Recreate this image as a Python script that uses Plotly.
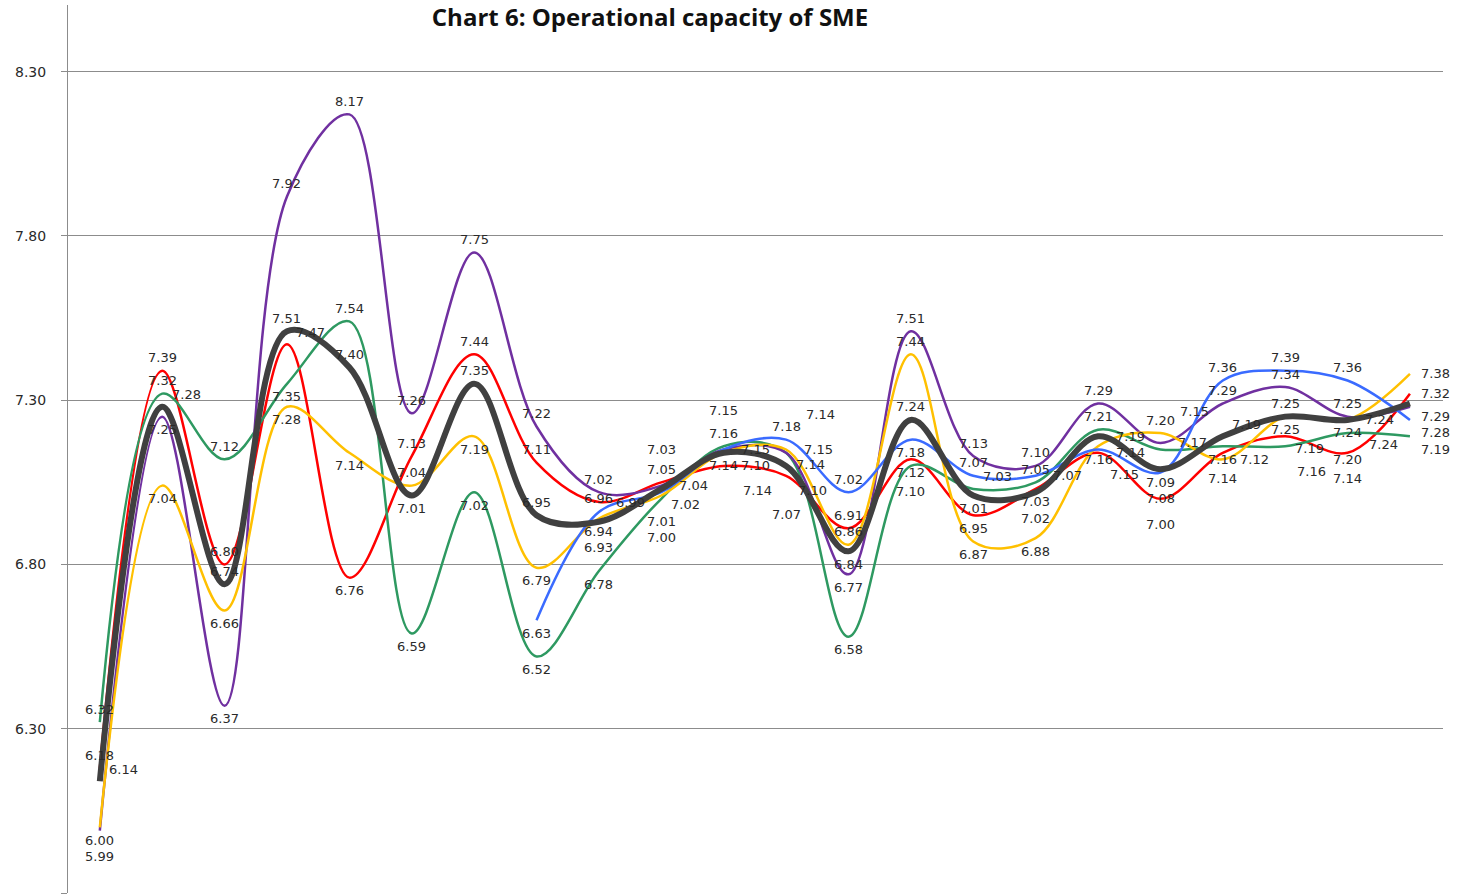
import plotly.graph_objects as go

# Observation index (22 periods, no visible axis labels)
periods = list(range(22))

red = [6.18, 7.39, 6.80, 7.47, 6.76, 7.13, 7.44, 7.11, 6.99, 7.05, 7.10, 7.07,
       6.91, 7.12, 6.95, 7.03, 7.14, 7.00, 7.14, 7.19, 7.14, 7.32]
green = [6.32, 7.32, 7.12, 7.35, 7.54, 6.59, 7.02, 6.52, 6.78, 7.00, 7.16, 7.14,
         6.58, 7.10, 7.03, 7.05, 7.21, 7.15, 7.16, 7.16, 7.20, 7.19]
purple = [5.99, 7.25, 6.37, 7.92, 8.17, 7.26, 7.75, 7.22, 7.02, 7.04, 7.15, 7.14,
          6.77, 7.51, 7.13, 7.10, 7.29, 7.17, 7.29, 7.34, 7.25, 7.28]
yellow = [6.00, 7.04, 6.66, 7.28, 7.14, 7.04, 7.19, 6.79, 6.94, 7.01, 7.14, 7.15,
          6.86, 7.44, 6.87, 6.88, 7.16, 7.20, 7.12, 7.25, 7.24, 7.38]
blue = [None, None, None, None, None, None, None, 6.63, 6.96, 7.02, 7.15, 7.18,
        7.02, 7.18, 7.07, 7.07, 7.15, 7.08, 7.36, 7.39, 7.36, 7.24]
average = [6.14, 7.28, 6.74, 7.51, 7.40, 7.01, 7.35, 6.95, 6.93, 7.03, 7.14, 7.10,
           6.84, 7.24, 7.01, 7.02, 7.19, 7.09, 7.19, 7.25, 7.24, 7.29]

series = [
    ("Series 1", red, "#FF0000", 2.5),
    ("Series 2", green, "#2E9961", 2.5),
    ("Series 3", purple, "#7030A0", 2.5),
    ("Series 4", yellow, "#FFC000", 2.5),
    ("Series 5", blue, "#3A6BFF", 2.5),
    ("Average", average, "#404040", 6),
]

W, H = 1462, 896
ML, MR, MT, MB = 68, 19, 5, 3
XR = (-0.51, 21.53)
YR = (5.80, 8.503)


def to_px(i, v):
    px = ML + (i - XR[0]) / (XR[1] - XR[0]) * (W - ML - MR)
    py = MT + (YR[1] - v) / (YR[1] - YR[0]) * (H - MT - MB)
    return px, py


fig = go.Figure()
for name, vals, color, width in series:
    fig.add_trace(go.Scatter(
        x=periods, y=vals, name=name, mode="lines",
        line=dict(color=color, width=width, shape="spline", smoothing=1.0),
        connectgaps=False, showlegend=False, hoverinfo="x+y+name",
    ))

# data labels placed with simple collision avoidance
up = [(0, -13), (24, -12), (-24, -12), (0, -26), (32, 0), (-32, 0),
      (26, -25), (-26, -25), (0, -39), (34, -38), (-34, -38)]
down = [(dx, -dy) for dx, dy in up]
LW, LH = 31, 13
placed = []


def free(cx, cy):
    if cx - LW / 2 < ML + 2 or cy - LH / 2 < MT + 2:
        return False
    for (bx, by) in placed:
        if abs(cx - bx) < LW + 1 and abs(cy - by) < LH + 1:
            return False
    return True


annotations = []
all_vals = [s[1] for s in series]
for i in periods:
    entries = [(vals[i], k) for k, vals in enumerate(all_vals) if vals[i] is not None]
    entries.sort(reverse=True)
    n = len(entries)
    for rank, (v, k) in enumerate(entries):
        px, py = to_px(i, v)
        cands = up if rank < n / 2 else down
        if i == 0:
            cands = [(-22, 0), (-22, -13), (-22, 13), (-22, -26), (-22, 26)] + cands
        if i == len(periods) - 1:
            cands = [(26, 0), (26, -13), (26, 13), (26, -26), (26, 26)] + cands
        choice = cands[0]
        for dx, dy in cands:
            if free(px + dx, py + dy):
                choice = (dx, dy)
                break
        placed.append((px + choice[0], py + choice[1]))
        annotations.append(dict(
            x=i, y=v, xref="x", yref="y", text=f"{v:.2f}", showarrow=False,
            xshift=choice[0], yshift=-choice[1],
            font=dict(family="DejaVu Sans", size=13, color="#2a2a2a"),
        ))

fig.update_layout(
    width=W, height=H,
    margin=dict(l=ML, r=MR, t=MT, b=MB),
    paper_bgcolor="white", plot_bgcolor="white",
    annotations=annotations,
    title=dict(text="<b>Chart 6: Operational capacity of SME</b>",
               x=650 / W, xanchor="center", y=1 - 18 / H, yanchor="middle",
               xref="container", yref="container",
               font=dict(family="Open Sans", size=24, color="#111111")),
    xaxis=dict(range=list(XR), showgrid=False, showticklabels=False,
               zeroline=False, showline=False),
    yaxis=dict(range=list(YR), tick0=5.8, dtick=0.5, tickformat=".2f",
               showgrid=True, gridcolor="#8C8C8C", gridwidth=1,
               showline=True, linecolor="#8C8C8C", linewidth=1,
               ticks="outside", ticklen=6, tickcolor="#8C8C8C",
               ticklabelstandoff=12, zeroline=False,
               tickfont=dict(family="DejaVu Sans", size=14, color="#2a2a2a")),
)

fig.write_html("out.html", config={"displayModeBar": False},
               post_script="document.body.style.margin='0';document.body.style.overflow='hidden';")
